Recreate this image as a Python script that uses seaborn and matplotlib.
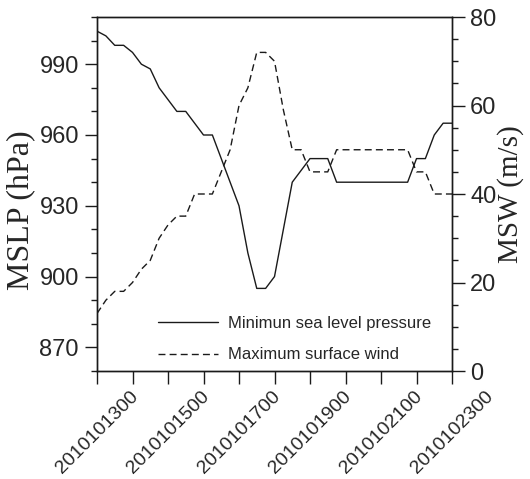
import numpy as np
import pandas as pd
import matplotlib
matplotlib.use("Agg")
import matplotlib.pyplot as plt
import matplotlib.dates as mdates
import seaborn as sns

# 6-hourly times from 2010-10-13 00 UTC to 2010-10-23 00 UTC
times = pd.date_range("2010-10-13 00:00", periods=41, freq="6h")

mslp = [1004, 1002, 998, 998, 995, 990, 988, 980, 975, 970,
        970, 965, 960, 960, 950, 940, 930, 910, 895, 895,
        900, 920, 940, 945, 950, 950, 950, 940, 940, 940,
        940, 940, 940, 940, 940, 940, 950, 950, 960, 965, 965]

msw = [13, 16, 18, 18, 20, 23, 25, 30, 33, 35,
       35, 40, 40, 40, 45, 50, 60, 64, 72, 72,
       70, 59, 50, 50, 45, 45, 45, 50, 50, 50,
       50, 50, 50, 50, 50, 50, 45, 45, 40, 40, 40]

label_p = "Minimun sea level pressure"
label_w = "Maximum surface wind"

df = pd.DataFrame({"time": times, "mslp": mslp, "msw": msw})

sns.set_theme(style="ticks")
plt.rcParams["font.family"] = ["Liberation Sans", "DejaVu Sans"]

fig = plt.figure(figsize=(5.30, 4.79), dpi=100)
ax = fig.add_axes([97/530, 1-371/479, 355/530, 354/479])
ax2 = ax.twinx()

lc = "#1a1a1a"
sns.lineplot(data=df, x="time", y="mslp", ax=ax, color=lc, linewidth=1.0,
             label=label_p, legend=False)
sns.lineplot(data=df, x="time", y="msw", ax=ax2, color=lc, linewidth=1.0,
             label=label_w, legend=False)
ax2.lines[0].set_dashes([5, 3])

ax.set_xlim(times[0], times[-1])
ax.set_ylim(860, 1010)
ax2.set_ylim(0, 80)

ax.set_yticks([870, 900, 930, 960, 990])
ax.set_yticks(np.arange(860, 1011, 10), minor=True)
ax2.set_yticks([0, 20, 40, 60, 80])
ax2.set_yticks(np.arange(0, 81, 5), minor=True)

ax.set_xticks(times[::8])
ax.set_xticks(times[::4], minor=True)
ax.xaxis.set_major_formatter(mdates.DateFormatter("%Y%m%d%H"))

for a in (ax, ax2):
    for s in a.spines.values():
        s.set_linewidth(1.0)
        s.set_color(lc)
    a.tick_params(axis="both", which="major", length=9, width=1.0, color=lc,
                  labelsize=17, pad=4, direction="out")
    a.tick_params(axis="both", which="minor", length=4, width=1.0, color=lc,
                  direction="out")
ax.tick_params(axis="x", which="both", length=9)
ax.tick_params(axis="x", which="major", labelsize=14, labelrotation=45, pad=3)
ax.tick_params(top=False, which="both")
ax2.tick_params(top=False, which="both")

ax.set_xlabel("")
ax.set_ylabel("MSLP (hPa)", family=["Liberation Serif"], fontsize=23)
ax2.set_ylabel("MSW (m/s)", family=["Liberation Serif"], fontsize=21)
ax.yaxis.set_label_coords(-62/355, 0.455)
ax2.yaxis.set_label_coords(1 + 45/355, 0.5)

h1, l1 = ax.get_legend_handles_labels()
h2, l2 = ax2.get_legend_handles_labels()
leg = ax2.legend(h1 + h2, l1 + l2, loc="lower left",
                 bbox_to_anchor=(0.13, -0.018), frameon=False, fontsize=12,
                 handlelength=3.6, labelspacing=1.0, handletextpad=0.6)

fig.savefig("out.png", dpi=100)
